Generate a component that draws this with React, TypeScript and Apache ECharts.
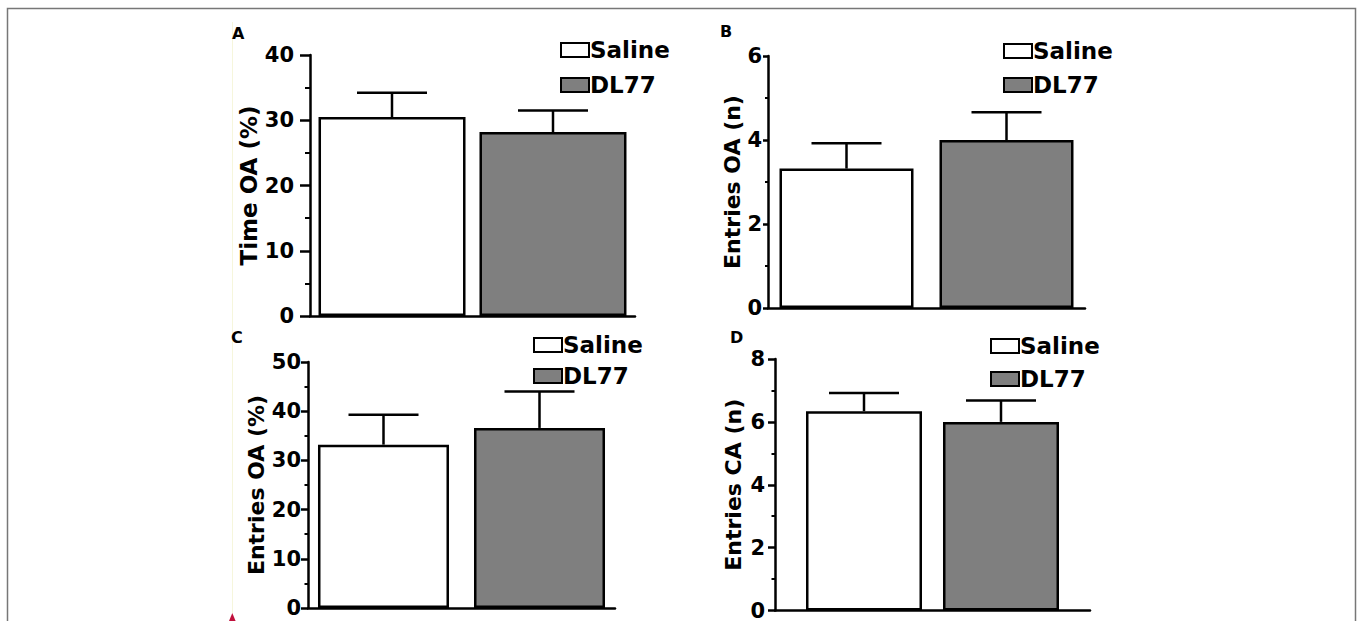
import React, { useEffect, useRef } from "react";
import * as echarts from "echarts";

// ---- data ----
const groups = ["Saline", "DL77"];
const panelLetters = ["A", "B", "C", "D"];
const yTitles = ["Time OA (%)", "Entries OA (n)", "Entries OA (%)", "Entries CA (n)"];
const yMax = [40, 6, 50, 8];
const yInterval = [10, 2, 10, 2];

const timeOAMean = [30.5, 28.2];
const timeOASem = [3.7, 3.3];
const entriesOAMean = [3.32, 4.0];
const entriesOASem = [0.6, 0.66];
const entriesOAPctMean = [33.2, 36.6];
const entriesOAPctSem = [6.1, 7.4];
const entriesCAMean = [6.34, 6.0];
const entriesCASem = [0.58, 0.68];

const means = [timeOAMean, entriesOAMean, entriesOAPctMean, entriesCAMean];
const sems = [timeOASem, entriesOASem, entriesOAPctSem, entriesCASem];

// ---- layout / style ----
const FONT = "DejaVu Sans, Liberation Sans, Arial, sans-serif";
const grids = [
  { left: 310, top: 55, width: 325, height: 261 },
  { left: 768, top: 56, width: 317, height: 252 },
  { left: 308, top: 362, width: 307, height: 246 },
  { left: 775, top: 359, width: 315, height: 253 },
];
const barWidths = [147, 134, 131, 116];
const barGapsPx = [14, 26, 25, 21];
const tickLens = [10, 5, 7, 7];
const labelMargins = [16, 6, 7, 10];
const nameGaps = [49, 24, 37, 31];
const nameSizes = [23, 22, 22, 22];
const legendPos = [
  { left: 560, top: 38, gap: 11 },
  { left: 1003, top: 39, gap: 10 },
  { left: 533, top: 333, gap: 7 },
  { left: 990, top: 334, gap: 9 },
];
const letterPos = [
  { x: 232, y: 25 },
  { x: 720, y: 23 },
  { x: 231, y: 329 },
  { x: 730, y: 329 },
];
const capWidth = 70;
const fills = ["#ffffff", "#7f7f7f"];

export default function App() {
  const ref = useRef<HTMLDivElement>(null);
  useEffect(() => {
    if (!ref.current) return;
    const chart = echarts.init(ref.current, undefined, { renderer: "svg" });

    const grid = grids.map((g) => ({ ...g, containLabel: false }));
    const xAxis = grids.map((_, i) => ({
      type: "category",
      gridIndex: i,
      data: [""],
      axisLine: { show: true, lineStyle: { color: "#000", width: 2.5 } },
      axisTick: { show: false },
      axisLabel: { show: false },
      splitLine: { show: false },
    }));
    const yAxis = grids.map((_, i) => ({
      type: "value",
      gridIndex: i,
      min: 0,
      max: yMax[i],
      interval: yInterval[i],
      axisLine: { show: true, lineStyle: { color: "#000", width: 2.5 } },
      axisTick: { show: true, inside: false, length: tickLens[i], lineStyle: { color: "#000", width: 2.5 } },
      minorTick: { show: true, splitNumber: 2, length: Math.max(3, tickLens[i] / 2), lineStyle: { color: "#000", width: 2 } },
      splitLine: { show: false },
      axisLabel: { color: "#000", fontSize: 21, fontWeight: "bold", fontFamily: FONT, margin: labelMargins[i] },
      name: yTitles[i],
      nameLocation: "middle",
      nameGap: nameGaps[i],
      nameTextStyle: { color: "#000", fontSize: nameSizes[i], fontWeight: "bold", fontFamily: FONT },
    }));

    const series: any[] = [];
    grids.forEach((_, p) => {
      groups.forEach((g, k) => {
        series.push({
          type: "bar",
          name: g,
          xAxisIndex: p,
          yAxisIndex: p,
          data: [means[p][k]],
          barWidth: barWidths[p],
          barGap: ((barGapsPx[p] / barWidths[p]) * 100).toFixed(1) + "%",
          itemStyle: { color: fills[k], borderColor: "#000", borderWidth: 2.5 },
          z: 2,
        });
      });
      const half = (barWidths[p] + barGapsPx[p]) / 2;
      series.push({
        type: "custom",
        name: "err" + p,
        xAxisIndex: p,
        yAxisIndex: p,
        z: 5,
        data: groups.map((_, k) => [0, means[p][k], sems[p][k]]),
        renderItem: (params: any, api: any) => {
          const m = api.value(1);
          const e = api.value(2);
          const b = api.coord([0, m]);
          const t = api.coord([0, m + e]);
          const x = b[0] + (params.dataIndex === 0 ? -half : half);
          const st = { stroke: "#000", lineWidth: 2.5 };
          return {
            type: "group",
            children: [
              { type: "line", shape: { x1: x, y1: b[1], x2: x, y2: t[1] }, style: st },
              { type: "line", shape: { x1: x - capWidth / 2, y1: t[1], x2: x + capWidth / 2, y2: t[1] }, style: st },
            ],
          };
        },
      });
    });

    const legend = legendPos.map((lp) => ({
      orient: "vertical",
      left: lp.left,
      top: lp.top,
      padding: 0,
      itemGap: lp.gap,
      itemWidth: 28,
      itemHeight: 14,
      selectedMode: false,
      icon: "rect",
      textStyle: { color: "#000", fontSize: 23, fontWeight: "bold", fontFamily: FONT, lineHeight: 24, padding: [0, 0, 0, -4] },
      data: groups.map((g, k) => ({
        name: g,
        icon: "rect",
        itemStyle: { color: fills[k], borderColor: "#000", borderWidth: 2 },
      })),
    }));

    const graphic: any[] = [
      {
        type: "rect",
        shape: { x: 7.5, y: 8.5, width: 1348, height: 700 },
        style: { fill: "none", stroke: "#777", lineWidth: 1.5 },
        silent: true,
      },
      {
        type: "line",
        shape: { x1: 232.5, y1: 22, x2: 232.5, y2: 613 },
        style: { stroke: "#f6f6dc", lineWidth: 1 },
        silent: true,
      },
      {
        type: "polygon",
        shape: { points: [[232.3, 613], [229, 621], [235.6, 621]] },
        style: { fill: "#c0103c" },
        silent: true,
      },
      ...panelLetters.map((l, i) => ({
        type: "text",
        x: letterPos[i].x,
        y: letterPos[i].y,
        style: { text: l, fill: "#000", fontSize: 16, fontWeight: "bold", fontFamily: FONT },
      })),
    ];

    chart.setOption({
      animation: false,
      backgroundColor: "#fff",
      grid,
      xAxis,
      yAxis,
      legend,
      series,
      graphic,
    });
    return () => chart.dispose();
  }, []);
  return <div ref={ref} style={{ position: "fixed", left: 0, top: 0, width: 1358, height: 621 }} />;
}
